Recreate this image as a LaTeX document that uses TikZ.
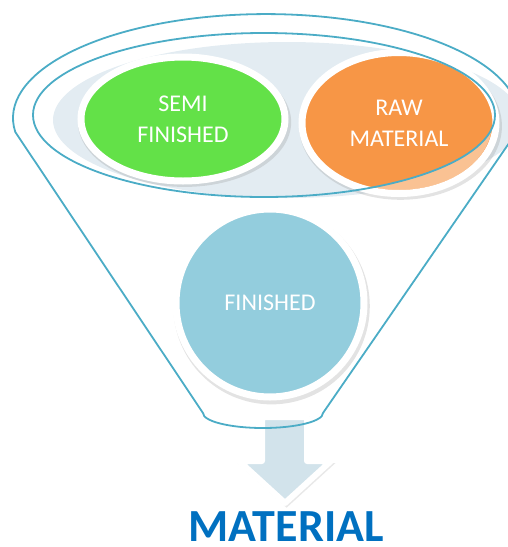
\documentclass[tikz,border=0pt]{standalone}
\usepackage{fontspec}
\setmainfont{Carlito}
\usetikzlibrary{shapes.geometric, shadows}
\usetikzlibrary{positioning}

\definecolor{rimblue}{HTML}{4BACC6}
\definecolor{disc}{HTML}{E3ECF2}
\definecolor{semigreen}{HTML}{63E148}
\definecolor{raworange}{HTML}{F79646}
\definecolor{finblue}{HTML}{93CDDD}
\definecolor{arrowfill}{HTML}{D2E3EB}
\definecolor{matblue}{HTML}{0070C0}

\begin{document}
\begin{tikzpicture}[x=1pt, y=-1pt,
    bubble/.style={draw=white, line width=7pt, text=white, align=center,
        font=\fontsize{24}{31}\selectfont,
        drop shadow={shadow xshift=1.5pt, shadow yshift=-3pt, shadow scale=1.045, opacity=.22}},
    rim/.style={draw=rimblue, line width=1.8pt, line join=round}]

\useasboundingbox (0,0) rectangle (508,547);
\clip (0,0) rectangle (508,547);

% disc inside the rim
\fill[disc] (287,120) ellipse [x radius=234, y radius=78];

% the two upper bubbles
\node[bubble, ellipse, fill=semigreen, minimum width=204, minimum height=124] (semi) at (183,119) {SEMI\\FINISHED};
\node[bubble, ellipse, fill=raworange, minimum width=194, minimum height=141] (raw) at (399,123) {RAW\\MATERIAL};

% front of the funnel pales the orange
\begin{scope}
    \clip (raw.center) ellipse [x radius=93, y radius=67];
    \fill[white, opacity=.42, even odd rule] (0,0) rectangle (508,547)
        (264,115) ellipse [x radius=231, y radius=82];
\end{scope}

% arrow out of the funnel
\draw[draw=white, fill=arrowfill, line width=6pt, line join=round,
    drop shadow={shadow xshift=1.5pt, shadow yshift=-2pt, shadow scale=1.06, opacity=.18}]
    (262,417) -- (262,461) -- (239,461) -- (285,503) -- (331,461) -- (307,461) -- (307,417) -- cycle;

% funnel
\draw[rim] (15.3,132) arc [start angle=172.3, end angle=367.7, x radius=253, y radius=104]
    -- (323,413) arc [start angle=0, end angle=180, x radius=60, y radius=15]
    -- cycle;
\draw[rim] (264,115) ellipse [x radius=231, y radius=82];

% lower bubble
\node[bubble, circle, fill=finblue, minimum size=188] (fin) at (270,303) {FINISHED};

% label
\node[anchor=base, inner sep=0pt, text=matblue, font=\bfseries\fontsize{46}{50}\selectfont] (material) at (286,541) {MATERIAL};

\end{tikzpicture}
\end{document}
